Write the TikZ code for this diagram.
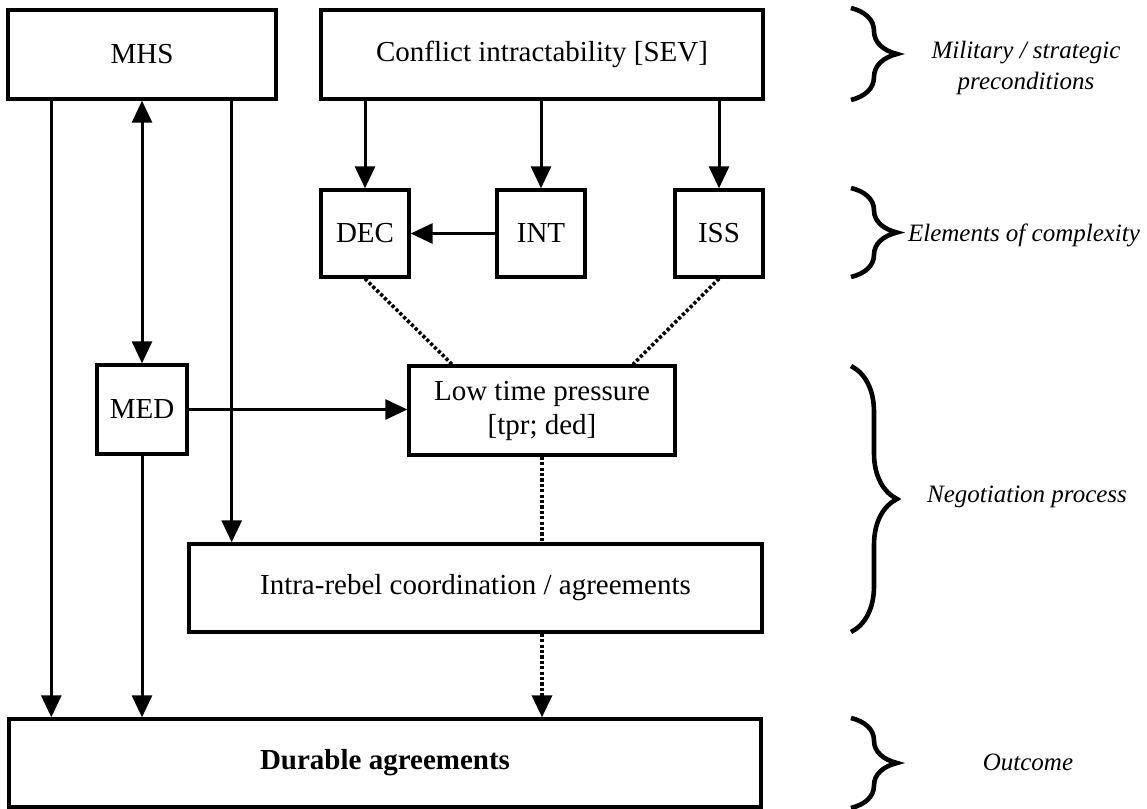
\documentclass[tikz,border=0pt]{standalone}
\usepackage{fontspec}
\setmainfont{Liberation Serif}
\usetikzlibrary{positioning}
\usetikzlibrary{arrows.meta}
\usetikzlibrary{decorations.pathreplacing}

\begin{document}
\begin{tikzpicture}[x=0.5pt,y=-0.5pt,
 box/.style={draw,line width=1.7pt,inner sep=2pt,align=center,font=\fontsize{14.5}{17}\selectfont},
 arr/.style={line width=1.5pt,-{Triangle[length=11pt,width=10pt]}},
 arrboth/.style={line width=1.5pt,{Triangle[length=11pt,width=10pt]}-{Triangle[length=11pt,width=10pt]}},
 dots/.style={line width=1.8pt,dash pattern=on 1.6pt off 1.1pt},
 brc/.style={line width=2.3pt,decorate,decoration={brace,amplitude=23pt}},
 lbl/.style={font=\fontsize{12.5}{15.5}\selectfont\itshape,align=center}]
 \useasboundingbox (0,0) rectangle (1147,809);
 % boxes
 \node[box,minimum width=134pt,minimum height=44.5pt] (MHS) at (142,54.5) {MHS};
 \node[box,minimum width=221pt,minimum height=44.5pt] (SEV) at (542,54.5) {Conflict intractability [SEV]};
 \node[box,minimum width=44pt,minimum height=43.5pt] (DEC) at (365,233.5) {DEC};
 \node[box,minimum width=44pt,minimum height=43.5pt] (INT) at (541,233.5) {INT};
 \node[box,minimum width=44pt,minimum height=43.5pt] (ISS) at (719,233.5) {ISS};
 \node[box,minimum width=45pt,minimum height=44.5pt] (MED) at (142,409.5) {MED};
 \node[box,minimum width=133pt,minimum height=44.5pt] (LOW) at (542,410.5) {Low time pressure\\{[tpr; ded]}};
 \node[box,minimum width=286.5pt,minimum height=44pt] (IRC) at (475.5,588) {Intra-rebel coordination / agreements};
 \node[box,minimum width=376pt,minimum height=44pt,font=\fontsize{14.5}{17}\selectfont\bfseries] (DUR) at (385,763) {Durable agreements};
 \coordinate (m1) at ([xshift=22.5pt]MHS.south west);
 \coordinate (m3) at ([xshift=-23pt]MHS.south east);
 % arrows
 \draw[arr] (m1) -- (m1 |- DUR.north);
 \draw[arrboth] (MHS.south) -- (MED.north);
 \draw[arr] (MED.south) -- (MED.south |- DUR.north);
 \draw[arr] (m3) -- (m3 |- IRC.north);
 \foreach \n in {DEC,INT,ISS}
  \draw[arr] (\n.north |- SEV.south) -- (\n.north);
 \draw[arr] (INT.west) -- (DEC.east);
 \draw[arr] (MED.east) -- (MED.east -| LOW.west);
 \draw[dots] (DEC.south) -- ([xshift=-45pt]LOW.north);
 \draw[dots] (ISS.south) -- ([xshift=45.5pt]LOW.north);
 \draw[dots] (LOW.south) -- (LOW.south |- IRC.north);
 \draw[arr,dots] (LOW.south |- IRC.south) -- (LOW.south |- DUR.north);
 % braces and levels
 \draw[brc] (851,8) -- (851,100);
 \draw[brc] (851,188) -- (851,277);
 \draw[brc] (851,366) -- (851,632);
 \draw[brc] (851,718) -- (851,808);
 \node[lbl] (mil) at (1026,68) {Military / strategic\\preconditions};
 \node[lbl] (ele) at (1024,235) {Elements of complexity};
 \node[lbl] (neg) at (1027,497) {Negotiation process};
 \node[lbl] (out) at (1028,762) {Outcome};
\end{tikzpicture}
\end{document}
